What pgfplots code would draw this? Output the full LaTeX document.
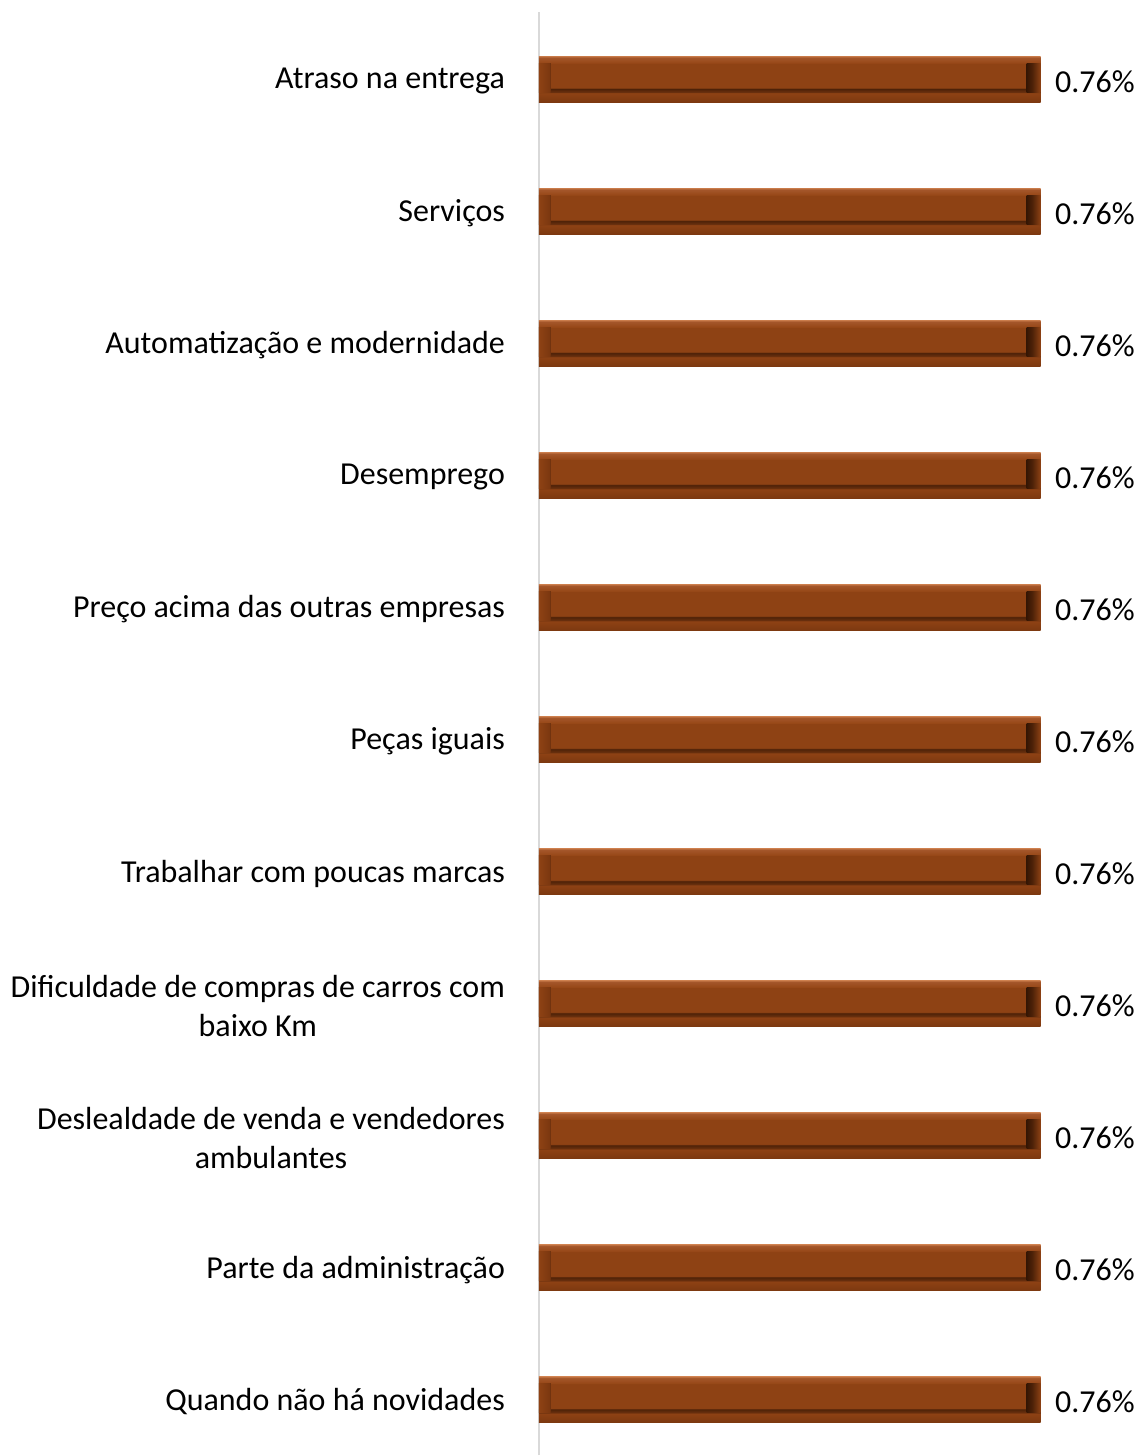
\documentclass[border=0pt]{standalone}
\usepackage{pgfplots}
\pgfplotsset{compat=1.18}
\usepackage{fontspec}
\setmainfont{Carlito}
\definecolor{barfill}{HTML}{8E4214}
\definecolor{baredge}{HTML}{C27444}
\definecolor{bartop}{HTML}{A4562A}
\definecolor{bartop2}{HTML}{974818}
\definecolor{barbot}{HTML}{7C3810}
\definecolor{bardark}{HTML}{4E2208}
\definecolor{bardark2}{HTML}{6A300E}
\definecolor{barvdark}{HTML}{361604}
\definecolor{axgray}{HTML}{D9D9D9}
\pgfdeclareverticalshading{bevelv}{100bp}{color(0bp)=(barbot); color(25bp)=(barbot); color(35bp)=(barfill); color(36bp)=(bardark2); color(39.5bp)=(bardark); color(41bp)=(barfill); color(67bp)=(barfill); color(68bp)=(bartop2); color(73.5bp)=(bartop); color(75bp)=(baredge); color(100bp)=(baredge)}
\pgfdeclarehorizontalshading{bevell}{100bp}{color(0bp)=(barfill); color(25bp)=(barfill); color(68bp)=(barbot); color(73bp)=(bardark2); color(75bp)=(bardark); color(100bp)=(bardark)}
\pgfdeclarehorizontalshading{bevelr}{100bp}{color(0bp)=(barvdark); color(25bp)=(barvdark); color(45bp)=(bardark); color(75bp)=(barfill); color(100bp)=(barfill)}
\pgfplotsset{
  base/.style={at={(0,0)}, anchor=south west, scale only axis, width=251pt, height=722pt,
    ymin=-0.42, ymax=10.51, clip=false},
  mainbar/.style={draw=none, shade, shading=bevelv, bar width=23pt, bar shift=0pt},
  lbev/.style={draw=none, shade, shading=bevell, bar width=14.5pt, bar shift=0.75pt},
  rbev/.style={draw=none, shade, shading=bevelr, bar width=14.5pt, bar shift=0.75pt},
}
\begin{document}
\fontsize{16}{19.5}\selectfont
\begin{tikzpicture}
\begin{axis}[
  base, xbar, xmin=0, xmax=0.76,
  axis x line=none, axis y line*=left,
  y axis line style={axgray, line width=0.8pt},
  ytick={0,...,10}, major tick length=0,
  yticklabels={Quando não há novidades, Parte da administração, {Deslealdade de venda e vendedores\\ambulantes}, {Dificuldade de compras de carros com\\baixo Km}, Trabalhar com poucas marcas, Peças iguais, Preço acima das outras empresas, Desemprego, Automatização e modernidade, Serviços, Atraso na entrega},
  yticklabel style={align=center, font=\fontsize{16}{19.5}\selectfont, xshift=-11.5pt, yshift=-1pt},
  /pgf/number format/assume math mode=true,
  nodes near coords={\pgfmathprintnumber[fixed, precision=2, assume math mode=true]{\pgfplotspointmeta}\%},
  nodes near coords style={font=\fontsize{16}{19.5}\selectfont, black, anchor=west, xshift=1.7pt, yshift=-1pt},
]
\addplot[mainbar] coordinates {(0.76,0)};
\addplot[mainbar] coordinates {(0.76,1)};
\addplot[mainbar] coordinates {(0.76,2)};
\addplot[mainbar] coordinates {(0.76,3)};
\addplot[mainbar] coordinates {(0.76,4)};
\addplot[mainbar] coordinates {(0.76,5)};
\addplot[mainbar] coordinates {(0.76,6)};
\addplot[mainbar] coordinates {(0.76,7)};
\addplot[mainbar] coordinates {(0.76,8)};
\addplot[mainbar] coordinates {(0.76,9)};
\addplot[mainbar] coordinates {(0.76,10)};
\pgfplotsinvokeforeach{0,...,10}{
  \addplot[lbev, nodes near coords={}] coordinates {(0.0182,#1)};
}
\end{axis}
\begin{axis}[base, xbar, xmin=-0.76, xmax=0, axis lines=none]
\pgfplotsinvokeforeach{0,...,10}{
  \addplot[rbev] coordinates {(-0.0212,#1)};
}
\end{axis}
\path (current axis.north) -- ++(0,6pt);
\end{tikzpicture}
\end{document}
